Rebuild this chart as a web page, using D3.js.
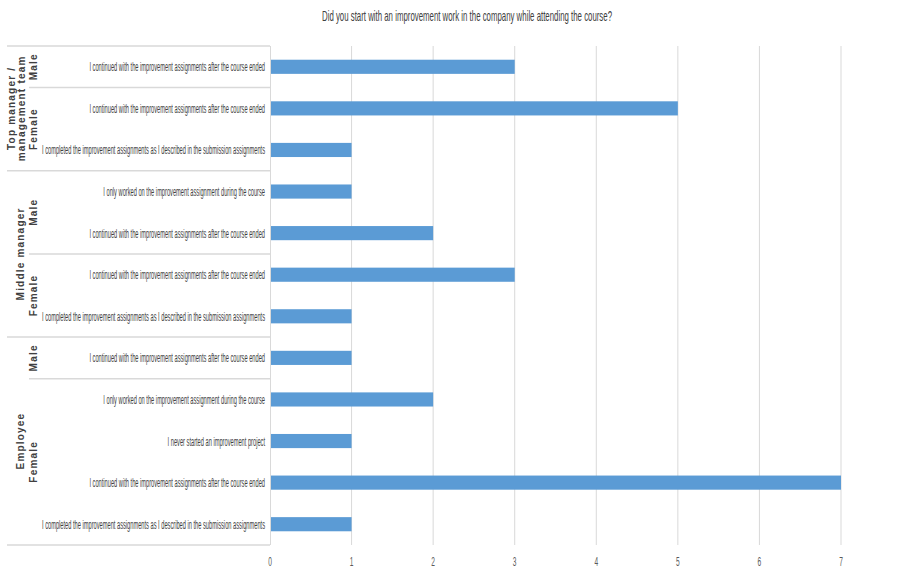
<!DOCTYPE html>
<html><head><meta charset="utf-8">
<script src="https://cdn.jsdelivr.net/npm/d3@7"></script>
<style>body{margin:0;background:#fff}svg{display:block}</style>
</head><body>
<svg id="c" width="917" height="567"></svg>
<script>
const title = "Did you start with an improvement work in the company while attending the course?";
const roles = ["Top manager / management team","Top manager / management team","Top manager / management team","Middle manager","Middle manager","Middle manager","Middle manager","Employee","Employee","Employee","Employee","Employee"];
const genders = ["Male","Female","Female","Male","Male","Female","Female","Male","Female","Female","Female","Female"];
const answers = [
 "I continued with the improvement assignments after the course ended",
 "I continued with the improvement assignments after the course ended",
 "I completed the improvement assignments as I described in the submission assignments",
 "I only worked on the improvement assignment during the course",
 "I continued with the improvement assignments after the course ended",
 "I continued with the improvement assignments after the course ended",
 "I completed the improvement assignments as I described in the submission assignments",
 "I continued with the improvement assignments after the course ended",
 "I only worked on the improvement assignment during the course",
 "I never started an improvement project",
 "I continued with the improvement assignments after the course ended",
 "I completed the improvement assignments as I described in the submission assignments"
];
const counts = [3,5,1,1,2,3,1,1,2,1,7,1];
const xTicks = [0,1,2,3,4,5,6,7];

const svg = d3.select("#c");
const idx = d3.range(counts.length);
const x = d3.scaleLinear().domain([0,7]).range([270,841]);
const y = d3.scaleBand().domain(idx).range([46,545]).paddingInner(0.66).paddingOuter(0.33);
const grid = "#d9d9d9";
const font = "Liberation Sans, Arial, sans-serif";

// title
const t = svg.append("text").attr("x",467).attr("y",21).attr("text-anchor","middle")
  .attr("font-family",font).attr("font-size",15).attr("fill","#404040").text(title);
t.attr("textLength", 290).attr("lengthAdjust","spacingAndGlyphs");

// gridlines
svg.append("g").selectAll("line").data(xTicks.filter(d=>d>0)).join("line")
  .attr("x1",d=>x(d)).attr("x2",d=>x(d)).attr("y1",46).attr("y2",545)
  .attr("stroke",grid).attr("stroke-width",1);

// tick labels
svg.append("g").selectAll("text").data(xTicks).join("text")
  .attr("x",d=>x(d)).attr("y",566).attr("text-anchor","middle")
  .attr("font-family",font).attr("font-size",12).attr("fill","#595959")
  .attr("transform",d=>`translate(${x(d)},0) scale(0.55,1) translate(${-x(d)},0)`)
  .text(d=>d);

// bars
svg.append("g").selectAll("rect").data(idx).join("rect")
  .attr("x",x(0)).attr("y",i=>y(i)).attr("width",i=>x(counts[i])-x(0)).attr("height",y.bandwidth())
  .attr("fill","#5b9bd5");

// axis line
svg.append("line").attr("x1",270.5).attr("x2",270.5).attr("y1",46).attr("y2",545).attr("stroke",grid);

// answer labels
const lab = svg.append("g").selectAll("text").data(idx).join("text")
  .attr("x",265).attr("y",i=>y(i)+y.bandwidth()/2+4.5).attr("text-anchor","end")
  .attr("font-family",font).attr("font-size",12.5).attr("fill","#404040")
  .text(i=>answers[i]);
let maxL = 0; lab.each(function(){ maxL = Math.max(maxL, this.getComputedTextLength()); });
const squeeze = 223/maxL;
lab.each(function(){ const L=this.getComputedTextLength(); d3.select(this).attr("textLength",L*squeeze).attr("lengthAdjust","spacingAndGlyphs"); });

// group structure
const h = (545-46)/counts.length;
function groupsOf(keyFn){
  const out=[]; idx.forEach(i=>{const k=keyFn(i); const last=out[out.length-1];
    if(last && last.k===k) last.end=i; else out.push({k,start:i,end:i});}); return out;
}
const roleGroups = groupsOf(i=>roles[i]);
const subGroups = groupsOf(i=>roles[i]+"|"+genders[i]);

// separators
const sep = svg.append("g").attr("stroke",grid).attr("stroke-width",1.5);
sep.append("line").attr("x1",7).attr("x2",270).attr("y1",46).attr("y2",46);
roleGroups.forEach(g=>{
  const yb = 46 + (g.end+1)*h;
  sep.append("line").attr("x1",7).attr("x2",270).attr("y1",yb).attr("y2",yb);
});
subGroups.forEach(g=>{
  const yb = 46 + (g.end+1)*h;
  const isRoleEnd = roleGroups.some(r=>r.end===g.end);
  if(!isRoleEnd) sep.append("line").attr("x1",29).attr("x2",270).attr("y1",yb).attr("y2",yb);
});

// sub-group labels (gender)
svg.append("g").selectAll("text").data(subGroups).join("text")
  .attr("transform",g=>`translate(37,${46+(g.start+g.end+1)/2*h}) rotate(-90)`)
  .attr("text-anchor","middle")
  .attr("font-family",font).attr("font-size",10).attr("font-weight","bold").attr("fill","#404040")
  .attr("letter-spacing",1.2)
  .text(g=>g.k.split("|")[1]);

// role labels
roleGroups.forEach(g=>{
  const cy = 46+(g.start+g.end+1)/2*h;
  const parts = g.k.startsWith("Top") ? ["Top manager /","management team"] : [g.k];
  const tx = svg.append("text").attr("transform",`translate(${parts.length>1?15:24},${cy}) rotate(-90)`)
    .attr("text-anchor","middle")
    .attr("font-family",font).attr("font-size",10).attr("font-weight","bold").attr("fill","#404040")
    .attr("letter-spacing",1.2);
  parts.forEach((p,j)=>tx.append("tspan").attr("x",0).attr("dy",j?10:0).text(p));
});
</script>
</body></html>
